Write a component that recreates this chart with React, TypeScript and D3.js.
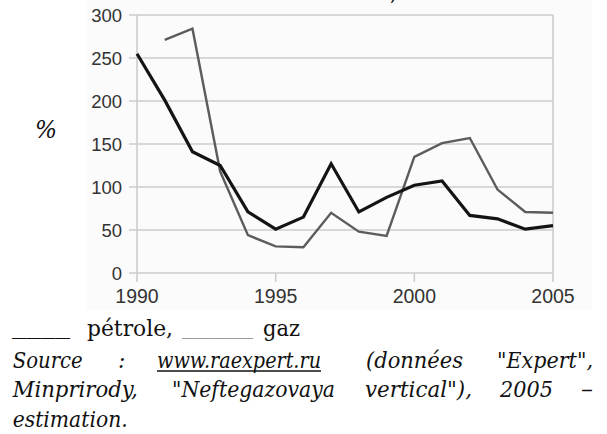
import React from "react";
import * as d3 from "d3";

const years = [1990, 1991, 1992, 1993, 1994, 1995, 1996, 1997, 1998, 1999, 2000, 2001, 2002, 2003, 2004, 2005];
const petrole: (number | null)[] = [255, 201, 141, 125, 71, 51, 65, 127, 71, 88, 102, 107, 67, 63, 51, 55];
const gaz: (number | null)[] = [null, 271, 284, 118, 44, 31, 30, 70, 48, 43, 135, 151, 157, 97, 71, 70];
const yTicks = [0, 50, 100, 150, 200, 250, 300];
const xTicks = [1990, 1995, 2000, 2005];

const W = 607;
const H = 434;

const tickFont = "Liberation Sans, Arimo, Arial, Helvetica, Roboto, sans-serif";
const serif = "DejaVu Serif, Liberation Serif, Times New Roman, serif";

export default function App() {
  const x = d3.scaleLinear().domain([1990, 2005]).range([137, 553]);
  const y = d3.scaleLinear().domain([0, 300]).range([273, 15]);
  const line = d3
    .line<number | null>()
    .defined((d) => d !== null)
    .x((_, i) => x(years[i]))
    .y((d) => y(d as number));

  const grid = "#cdcdcd";
  const serifStyle = { fontFamily: serif };
  const sansStyle = { fontFamily: tickFont };

  return (
    <div style={{ position: "absolute", left: 0, top: 0 }}>
      <svg width={W} height={H} style={{ display: "block", background: "#fff" }}>
        <rect x={87} y={0} width={505} height={310} fill="#fbfbfb" />
        {/* cut-off title fragment */}
        <text x={390} y={0} style={serifStyle} fontSize={20} fill="#111">,</text>
        {yTicks.map((t) => (
          <g key={t}>
            <line x1={129} x2={553} y1={y(t)} y2={y(t)} stroke={grid} strokeWidth={1.6} />
            <text x={122} y={y(t)} dy="0.36em" textAnchor="end" style={sansStyle} fontSize={18.5} fill="#333">
              {t}
            </text>
          </g>
        ))}
        <line x1={x(1990)} x2={x(1990)} y1={y(300)} y2={y(0)} stroke={grid} strokeWidth={1.6} />
        <line x1={x(2005)} x2={x(2005)} y1={y(300)} y2={y(0)} stroke={grid} strokeWidth={1.6} />
        {xTicks.map((t) => (
          <g key={t}>
            <line x1={x(t)} x2={x(t)} y1={y(0)} y2={y(0) + 9} stroke={grid} strokeWidth={1.6} />
            <text x={x(t)} y={303} textAnchor="middle" style={sansStyle} fontSize={19.5} fill="#333">
              {t}
            </text>
          </g>
        ))}
        <path d={line(gaz) || ""} fill="none" stroke="#5c5c5c" strokeWidth={2.4} />
        <path d={line(petrole) || ""} fill="none" stroke="#141414" strokeWidth={3.2} />
        {/* % label */}
        <text x={35} y={138} style={serifStyle} fontStyle="italic" fontSize={24} fill="#111" textLength={22} lengthAdjust="spacingAndGlyphs">%</text>

        {/* legend */}
        <g style={serifStyle} fontSize={22} fill="#111">
          <text x={12} y={334} textLength={58} lengthAdjust="spacingAndGlyphs">____</text>
          <text x={87} y={336} textLength={86} lengthAdjust="spacingAndGlyphs">pétrole,</text>
          <text x={182} y={334} textLength={71} lengthAdjust="spacingAndGlyphs" fill="#9a9a9a">_____</text>
          <text x={263} y={336} textLength={37} lengthAdjust="spacingAndGlyphs">gaz</text>
        </g>

        {/* source */}
        <g style={serifStyle} fontSize={22} fontStyle="italic" fill="#111">
          <text x={12.7} y={368} textLength={70} lengthAdjust="spacingAndGlyphs">Source</text>
          <text x={118} y={368}>:</text>
          <text x={157} y={368} textLength={164} lengthAdjust="spacingAndGlyphs">www.raexpert.ru</text>
          <line x1={157} x2={321} y1={371} y2={371} stroke="#111" strokeWidth={1.5} />
          <text x={366} y={368} textLength={97} lengthAdjust="spacingAndGlyphs">(données</text>
          <text x={497} y={368} textLength={96} lengthAdjust="spacingAndGlyphs">"Expert",</text>

          <text x={12.7} y={397} textLength={125} lengthAdjust="spacingAndGlyphs">Minprirody,</text>
          <text x={172} y={397} textLength={163} lengthAdjust="spacingAndGlyphs">"Neftegazovaya</text>
          <text x={365} y={397} textLength={107} lengthAdjust="spacingAndGlyphs">vertical"),</text>
          <text x={500} y={397} textLength={53} lengthAdjust="spacingAndGlyphs">2005</text>
          <text x={581} y={397} textLength={12} lengthAdjust="spacingAndGlyphs">–</text>

          <text x={12.7} y={427} textLength={115} lengthAdjust="spacingAndGlyphs">estimation.</text>
        </g>
      </svg>
    </div>
  );
}
